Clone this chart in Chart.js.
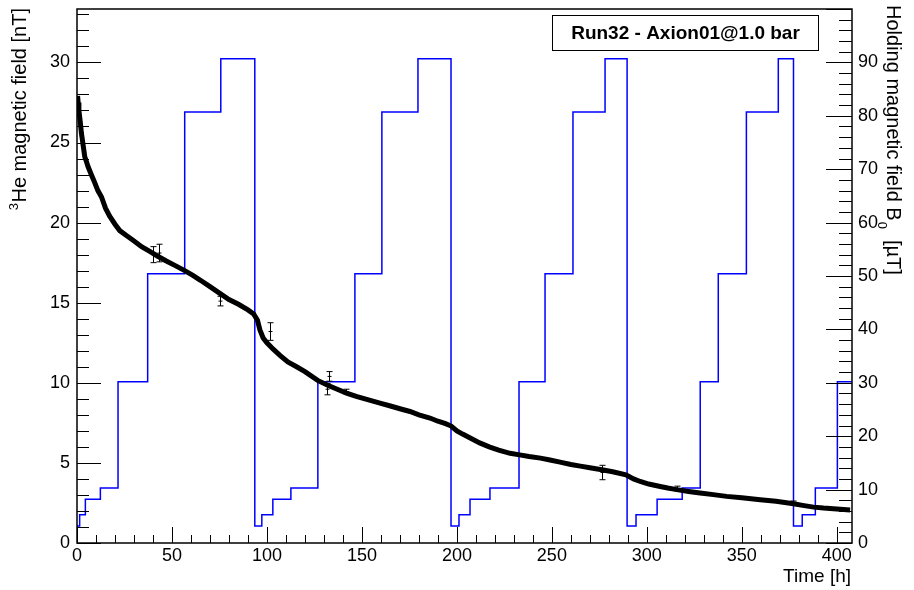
<!DOCTYPE html>
<html><head><meta charset="utf-8">
<script src="https://cdn.jsdelivr.net/npm/chart.js@4"></script>
<style>html,body{margin:0;padding:0;background:#fff;overflow:hidden}</style>
</head><body>
<canvas id="c" width="914" height="590" style="width:914px;height:590px;display:block"></canvas>
<script>
// ---- data ----
const heTime = [0.3,0.6,1.0,1.4,1.8,2.3,2.8,3.5,4.1,5.0,5.8,7.5,9.3,11,12.9,15,17.2,20,22.5,26,29.5,34,38.3,42.5,47,52,56.7,61,65,70,75,80,85,90,93,95,96.3,98,100,103.3,107,111,115.6,120,126.7,132,137,141.9,147,153,159.5,165,170,175.3,180,185.8,190,194,197,200,203,207,212,217,222,228,233,238,244,249,254.3,260,265,270,276.3,282,289,293,296.5,301,307,311,315.8,322,328,335,342,350,359.7,368,377.2,382,387.8,393,400,407];
const heField = [27.9,27.5,27.0,26.6,26.2,25.6,25.2,24.6,24.1,23.8,23.5,23.0,22.5,22.0,21.6,20.9,20.4,19.9,19.5,19.2,18.9,18.5,18.2,17.9,17.6,17.3,17.0,16.7,16.4,16.0,15.6,15.2,14.9,14.55,14.3,13.9,13.3,12.8,12.5,12.1,11.7,11.3,11.0,10.7,10.15,9.85,9.6,9.36,9.15,8.95,8.73,8.55,8.38,8.21,8.0,7.8,7.6,7.45,7.3,7.0,6.8,6.55,6.25,6.0,5.8,5.6,5.5,5.4,5.3,5.18,5.05,4.9,4.8,4.7,4.57,4.45,4.26,4.0,3.84,3.68,3.53,3.43,3.33,3.22,3.12,3.02,2.91,2.82,2.70,2.6,2.45,2.35,2.24,2.18,2.12,2.06];
const errTime  = [40.0, 43.0, 75.5, 101.5, 131.5, 132.5, 141.7, 276.3, 315.8, 377.0];
const errField = [18.0, 18.1, 15.1, 13.2, 9.6, 10.4, 9.45, 4.4, 3.4, 2.5];
const errSize  = [0.5, 0.55, 0.3, 0.55, 0.35, 0.3, 0.15, 0.45, 0.15, 0.12];
const holdTime  = [0,1.4,4.4,12.3,21.6,37.2,56.7,75.7,93.6,97.3,103.1,112.6,126.8,146.3,160.5,179.5,196.9,201.1,206.9,217.4,232.7,246.4,261.1,278.0,289.6,294.3,305.4,318.6,328.1,337.6,352.4,369.2,377.2,381.8,388.7,400.3,408];
const holdField = [3.2,5.3,8.2,10.3,30.2,50.4,80.7,90.7,3.2,5.3,8.2,10.3,30.2,50.4,80.7,90.7,3.2,5.3,8.2,10.3,30.2,50.4,80.7,90.7,3.2,5.3,8.2,10.3,30.2,50.4,80.7,90.7,3.2,5.3,10.3,30.2,30.2];
const xTicks = [0,50,100,150,200,250,300,350,400];
const leftTicks = [0,5,10,15,20,25,30];
const rightTicks = [0,10,20,30,40,50,60,70,80,90];
const xTitle = 'Time [h]';
const leftTitle = 'He magnetic field [nT]';
const rightTitle = 'Holding magnetic field B';
const legendText = 'Run32 - Axion01@1.0 bar';

const FONT = 'Liberation Sans, Arial, Helvetica, sans-serif';

const rootPlugin = {
  id: 'rootStyle',
  afterDatasetsDraw(chart) {
    const ctx = chart.ctx;
    const a = chart.chartArea;
    const sx = chart.scales.x, sy = chart.scales.y, sy2 = chart.scales.y2;
    ctx.save();
    // error bars
    ctx.strokeStyle = '#000'; ctx.lineWidth = 1;
    for (let i = 0; i < errTime.length; i++) {
      const x = Math.round(sx.getPixelForValue(errTime[i])) + 0.5;
      const y1 = sy.getPixelForValue(errField[i] - errSize[i]);
      const y2 = sy.getPixelForValue(errField[i] + errSize[i]);
      const yc = sy.getPixelForValue(errField[i]);
      ctx.beginPath();
      ctx.moveTo(x, y1); ctx.lineTo(x, y2);
      ctx.moveTo(x - 3, y1); ctx.lineTo(x + 3, y1);
      ctx.moveTo(x - 3, y2); ctx.lineTo(x + 3, y2);
      ctx.moveTo(x - 2, yc); ctx.lineTo(x + 2, yc);
      ctx.stroke();
    }
    // ticks
    ctx.strokeStyle = '#000'; ctx.lineWidth = 1;
    ctx.beginPath();
    for (let v = 0; v <= 408; v += 10) {
      const x = Math.round(sx.getPixelForValue(v)) + 0.5;
      const len = (v % 50 === 0) ? 16 : 8;
      ctx.moveTo(x, a.bottom); ctx.lineTo(x, a.bottom - len);
    }
    for (let v = 0; v <= 33; v += 1) {
      const y = Math.round(sy.getPixelForValue(v)) + 0.5;
      const len = (v % 5 === 0) ? 24 : 12;
      ctx.moveTo(a.left, y); ctx.lineTo(a.left + len, y);
    }
    for (let v = 0; v <= 100; v += 2) {
      const y = Math.round(sy2.getPixelForValue(v)) + 0.5;
      const len = (v % 10 === 0) ? 26 : 13;
      ctx.moveTo(a.right, y); ctx.lineTo(a.right - len, y);
    }
    ctx.stroke();
    // frame
    ctx.lineWidth = 1.5;
    ctx.strokeRect(a.left, a.top, a.right - a.left, a.bottom - a.top);

    // legend box
    ctx.fillStyle = '#fff';
    ctx.fillRect(552.5, 15.5, 266, 35);
    ctx.lineWidth = 1;
    ctx.strokeStyle = '#000';
    ctx.strokeRect(552.5, 15.5, 266, 35);
    ctx.fillStyle = '#000';
    ctx.font = 'bold 19px ' + FONT;
    ctx.textAlign = 'center'; ctx.textBaseline = 'middle';
    ctx.fillText(legendText, 685.5, 33.5);

    // x title
    ctx.font = '19px ' + FONT;
    ctx.textAlign = 'right'; ctx.textBaseline = 'middle';
    ctx.fillText(xTitle, 851, 577);

    // left title (rotated, right aligned at top)
    ctx.save();
    ctx.translate(20, 8);
    ctx.rotate(-Math.PI / 2);
    ctx.font = '20px ' + FONT;
    const w1 = ctx.measureText(leftTitle).width;
    ctx.textAlign = 'left'; ctx.textBaseline = 'middle';
    ctx.fillText(leftTitle, -w1, 0);
    ctx.font = '13px ' + FONT;
    const w2 = ctx.measureText('3').width;
    ctx.fillText('3', -w1 - w2 - 0.5, -6);
    ctx.restore();

    // right title (rotated, reading downward)
    ctx.save();
    ctx.translate(893, 5);
    ctx.rotate(Math.PI / 2);
    ctx.font = '20px ' + FONT;
    ctx.textAlign = 'left'; ctx.textBaseline = 'middle';
    ctx.fillText(rightTitle, 0, 0);
    let w = ctx.measureText(rightTitle).width;
    ctx.font = '13px ' + FONT;
    ctx.fillText('0', w + 1, 11);
    w += ctx.measureText('0').width + 12;
    ctx.font = '20px ' + FONT;
    ctx.fillText('[\u00b5T]', w, 0);
    ctx.restore();

    ctx.restore();
  }
};

function noPadV(s, width) { s.width = width; s.paddingTop = 0; s.paddingBottom = 0; }

new Chart(document.getElementById('c'), {
  type: 'scatter',
  data: {
    datasets: [
      {
        label: 'He3',
        data: heTime.map((t, i) => ({x: t, y: heField[i]})),
        yAxisID: 'y',
        showLine: true,
        borderColor: '#000',
        backgroundColor: '#000',
        borderWidth: 5,
        pointRadius: 0,
        tension: 0,
        order: 0
      },
      {
        label: 'B0',
        data: holdTime.map((t, i) => ({x: t, y: holdField[i]})),
        yAxisID: 'y2',
        showLine: true,
        stepped: 'before',
        borderColor: '#0000ff',
        backgroundColor: '#0000ff',
        borderWidth: 1.5,
        pointRadius: 0,
        order: 1
      }
    ]
  },
  options: {
    responsive: false,
    animation: false,
    devicePixelRatio: 1,
    layout: { padding: { top: 9, left: 0, right: 0, bottom: 0 } },
    plugins: { legend: { display: false }, tooltip: { enabled: false } },
    scales: {
      x: {
        type: 'linear', position: 'bottom', min: 0, max: 408,
        afterBuildTicks(s) { s.ticks = xTicks.map(v => ({value: v})); },
        afterFit(s) { s.height = 47; s.paddingLeft = 0; s.paddingRight = 0; },
        ticks: { color: '#000', font: { family: FONT, size: 18 }, padding: 2, maxRotation: 0, autoSkip: false, includeBounds: false },
        grid: { display: false, drawTicks: false },
        border: { display: false }
      },
      y: {
        type: 'linear', position: 'left', min: 0, max: 100 / 3,
        afterBuildTicks(s) { s.ticks = leftTicks.map(v => ({value: v})); },
        afterFit(s) { noPadV(s, 77); },
        ticks: { color: '#000', font: { family: FONT, size: 18 }, padding: 7, autoSkip: false, includeBounds: false },
        grid: { display: false, drawTicks: false },
        border: { display: false }
      },
      y2: {
        type: 'linear', position: 'right', min: 0, max: 100,
        afterBuildTicks(s) { s.ticks = rightTicks.map(v => ({value: v})); },
        afterFit(s) { noPadV(s, 62); },
        ticks: { color: '#000', font: { family: FONT, size: 18 }, padding: 6, autoSkip: false, includeBounds: false },
        grid: { display: false, drawTicks: false },
        border: { display: false }
      }
    }
  },
  plugins: [rootPlugin]
});
</script>
</body></html>
